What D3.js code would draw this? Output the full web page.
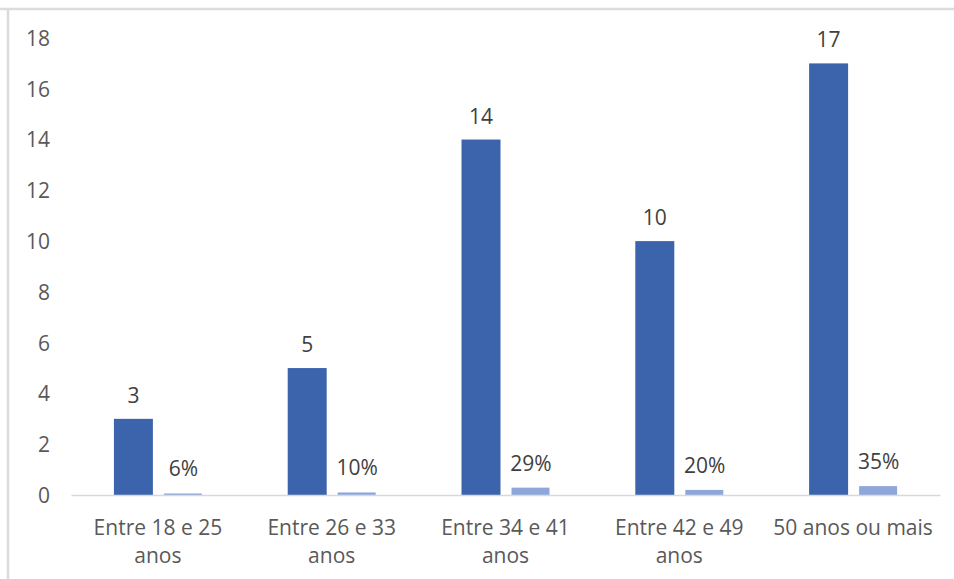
<!DOCTYPE html>
<html>
<head>
<meta charset="utf-8">
<script src="https://cdn.jsdelivr.net/npm/d3@7"></script>
<style>
  html, body { margin: 0; padding: 0; background: #ffffff; }
  svg { display: block; }
  text { font-family: "Open Sans", "Liberation Sans", sans-serif; }
</style>
</head>
<body>
<svg id="chart" width="954" height="579"></svg>
<script>
const categories = ["Entre 18 e 25\nanos", "Entre 26 e 33\nanos", "Entre 34 e 41\nanos", "Entre 42 e 49\nanos", "50 anos ou mais"];
const counts = [3, 5, 14, 10, 17];
const shares = [0.06, 0.10, 0.29, 0.20, 0.35];
const yTicks = [0, 2, 4, 6, 8, 10, 12, 14, 16, 18];

const colorCount = "#3B64AD";
const colorShare = "#8EA7DB";

const svg = d3.select("#chart");
const W = 954, H = 579;
const FS = 21;

// frame lines (top and left)
svg.append("line").attr("x1", 0).attr("x2", W).attr("y1", 9).attr("y2", 9)
  .attr("stroke", "#dcdcdc").attr("stroke-width", 2.5);
svg.append("line").attr("x1", 8).attr("x2", 8).attr("y1", 9).attr("y2", H)
  .attr("stroke", "#dcdcdc").attr("stroke-width", 2.5);

const x = d3.scaleBand().domain(categories).range([71, 940]).padding(0);
const y = d3.scaleLinear().domain([0, 18]).range([495, 38]);

const barW = 39, gap = 5;

// y tick labels
const yAxis = d3.axisLeft(y).tickValues(yTicks).tickSize(0).tickPadding(0);
const gy = svg.append("g").attr("transform", "translate(50,0)").call(yAxis);
gy.select(".domain").remove();
gy.selectAll("text").attr("font-size", FS).attr("fill", "#595959")
  .attr("font-family", "\"Open Sans\", sans-serif").attr("dy", "0.35em");

// bars
const cx = c => x(c) + x.bandwidth() / 2;
svg.append("g").selectAll("rect").data(categories).join("rect")
  .attr("x", c => cx(c) - gap - barW)
  .attr("width", barW)
  .attr("y", (c, i) => y(counts[i]))
  .attr("height", (c, i) => y(0) - y(counts[i]))
  .attr("fill", colorCount);
svg.append("g").selectAll("rect").data(categories).join("rect")
  .attr("x", c => cx(c) + gap + 1)
  .attr("width", barW - 1)
  .attr("y", (c, i) => y(shares[i]))
  .attr("height", (c, i) => y(0) - y(shares[i]))
  .attr("fill", colorShare);

// value labels
svg.append("g").selectAll("text").data(categories).join("text")
  .attr("x", c => cx(c) - gap - barW / 2)
  .attr("y", (c, i) => y(counts[i]) - 16)
  .attr("text-anchor", "middle").attr("font-size", FS).attr("fill", "#404040")
  .text((c, i) => counts[i]);
const pct = d3.format(".0%");
svg.append("g").selectAll("text").data(categories).join("text")
  .attr("x", c => cx(c) + gap + barW / 2 + 1)
  .attr("y", (c, i) => y(shares[i]) - 17)
  .attr("text-anchor", "middle").attr("font-size", FS).attr("fill", "#404040")
  .text((c, i) => pct(shares[i]));

// x axis
const xAxis = d3.axisBottom(x).tickSize(0).tickFormat("");
const gx = svg.append("g").attr("transform", `translate(0,${y(0)})`).call(xAxis);
gx.select(".domain").attr("stroke", "#d9d9d9").attr("stroke-width", 1.5);

// category labels
const lab = svg.append("g").selectAll("text").data(categories).join("text")
  .attr("x", c => cx(c)).attr("y", 535)
  .attr("text-anchor", "middle").attr("font-size", FS).attr("fill", "#595959");
lab.each(function(c) {
  const lines = c.split("\n");
  d3.select(this).selectAll("tspan").data(lines).join("tspan")
    .attr("x", cx(c)).attr("dy", (d, i) => i === 0 ? 0 : 28).text(d => d);
});
</script>
</body>
</html>
